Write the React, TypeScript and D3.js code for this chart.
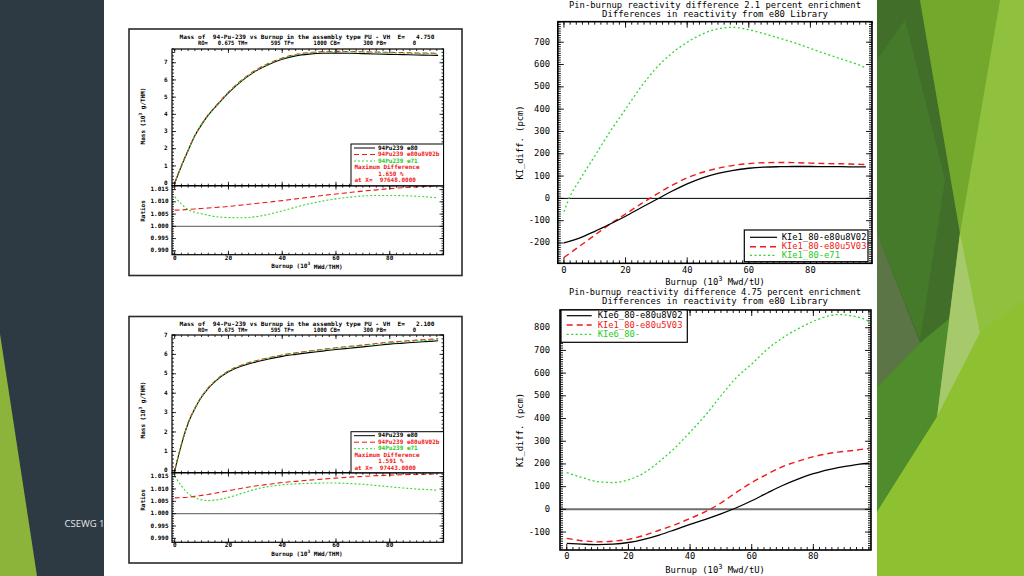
import React from "react";
import * as d3 from "d3";

// ---------------- Data: left charts (Pu-239 mass and ratios) ----------------
const burnupMass = [0, 2.5, 5, 7.5, 10, 12.5, 15, 20, 25, 30, 35, 40, 45, 50, 55, 60, 65, 70, 75, 80, 85, 90, 95, 98];

// E = 4.750
const massE80_475 = [0, 1.0, 1.9, 2.75, 3.4, 3.95, 4.4, 5.25, 5.95, 6.5, 6.9, 7.2, 7.4, 7.5, 7.55, 7.56, 7.55, 7.53, 7.51, 7.49, 7.47, 7.45, 7.44, 7.43];
const massE80u8_475 = [0, 1.007, 1.913, 2.77, 3.425, 3.98, 4.434, 5.293, 6.002, 6.56, 6.968, 7.276, 7.483, 7.589, 7.645, 7.66, 7.654, 7.638, 7.622, 7.606, 7.588, 7.57, 7.562, 7.553];
const massE71_475 = [0, 1.009, 1.913, 2.766, 3.417, 3.968, 4.418, 5.269, 5.971, 6.525, 6.934, 7.245, 7.458, 7.569, 7.628, 7.645, 7.64, 7.623, 7.605, 7.584, 7.563, 7.542, 7.529, 7.516];
const ratioE80u8_475 = [1.0066, 1.0067, 1.0069, 1.0071, 1.0073, 1.0075, 1.0077, 1.0081, 1.0087, 1.0093, 1.0099, 1.0105, 1.0112, 1.0119, 1.0126, 1.0132, 1.0138, 1.0144, 1.0149, 1.0154, 1.0158, 1.0161, 1.0164, 1.0165];
const ratioE71_475 = [1.0121, 1.0091, 1.0068, 1.0058, 1.0051, 1.0045, 1.004, 1.0036, 1.0035, 1.0039, 1.0049, 1.0063, 1.0078, 1.0092, 1.0103, 1.0112, 1.0119, 1.0124, 1.0126, 1.0126, 1.0125, 1.0123, 1.0119, 1.0116];

// E = 2.100
const massE80_210 = [0, 1.35, 2.45, 3.2, 3.8, 4.25, 4.6, 5.1, 5.4, 5.6, 5.76, 5.9, 6.0, 6.09, 6.17, 6.25, 6.32, 6.39, 6.46, 6.53, 6.58, 6.63, 6.67, 6.7];
const massE80u8_210 = [0, 1.359, 2.466, 3.222, 3.828, 4.283, 4.638, 5.147, 5.456, 5.663, 5.829, 5.974, 6.079, 6.173, 6.256, 6.34, 6.414, 6.487, 6.56, 6.632, 6.684, 6.735, 6.777, 6.808];
const massE71_210 = [0, 1.365, 2.47, 3.221, 3.821, 4.273, 4.625, 5.134, 5.444, 5.655, 5.823, 5.969, 6.073, 6.165, 6.247, 6.327, 6.397, 6.466, 6.534, 6.601, 6.648, 6.696, 6.735, 6.764];
const ratioE80u8_210 = [1.0064, 1.0065, 1.0067, 1.007, 1.0074, 1.0078, 1.0083, 1.0093, 1.0103, 1.0112, 1.0119, 1.0126, 1.0131, 1.0136, 1.014, 1.0144, 1.0148, 1.0151, 1.0154, 1.0156, 1.0158, 1.0159, 1.016, 1.0161];
const ratioE71_210 = [1.0153, 1.0113, 1.0082, 1.0065, 1.0056, 1.0053, 1.0055, 1.0066, 1.0082, 1.0099, 1.011, 1.0117, 1.0121, 1.0123, 1.0124, 1.0124, 1.0122, 1.0119, 1.0114, 1.0109, 1.0104, 1.01, 1.0097, 1.0095];

const massTicks = [0, 1, 2, 3, 4, 5, 6, 7];
const ratioTicks = [0.99, 0.995, 1.0, 1.005, 1.01, 1.015];
const ratioTickLabels = ["0.990", "0.995", "1.000", "1.005", "1.010", "1.015"];
const burnupTicks = [0, 20, 40, 60, 80];

// ---------------- Data: right charts (reactivity differences, pcm) ----------------
const burnup21 = [0, 2, 5, 10, 15, 20, 25, 30, 35, 40, 45, 50, 55, 60, 65, 70, 75, 80, 85, 90, 95, 98];
const kiE80u8_21 = [-200, -192, -178, -148, -115, -80, -42, -5, 32, 65, 92, 112, 126, 135, 140, 142, 143, 143, 142, 142, 141, 141];
const kiE80u5_21 = [-265, -245, -215, -165, -115, -70, -25, 18, 58, 92, 117, 135, 148, 156, 160, 161, 160, 158, 156, 155, 153, 152];
const kiE71_21 = [-60, 10, 80, 190, 300, 400, 500, 585, 650, 700, 737, 760, 767, 756, 738, 718, 697, 672, 648, 625, 602, 585];

const burnup475 = [0, 5, 10, 15, 20, 25, 30, 35, 40, 45, 50, 55, 60, 65, 70, 75, 80, 85, 88, 92, 95, 98];
const kiE80u8_475 = [-150, -153, -155, -153, -146, -132, -113, -90, -66, -44, -20, 7, 38, 72, 105, 133, 157, 175, 184, 193, 199, 203];
const kiE80u5_475 = [-128, -138, -143, -140, -132, -115, -92, -68, -40, -10, 28, 75, 118, 155, 188, 212, 232, 246, 252, 258, 263, 268];
const kiE71_475 = [162, 140, 122, 118, 130, 160, 210, 270, 340, 415, 500, 580, 640, 705, 755, 795, 828, 852, 858, 853, 845, 828];

const kiTicks21 = [-200, -100, 0, 100, 200, 300, 400, 500, 600, 700];
const kiTicks475 = [-100, 0, 100, 200, 300, 400, 500, 600, 700, 800];

// ---------------- Styling ----------------
const MONO = '"DejaVu Sans Mono", "Liberation Mono", monospace';
const RED = "#f01818";
const GREEN = "#2fd82f";
const GREEN_TXT = "#22cc22";

function steps(lo: number, hi: number, step: number): number[] {
  const n0 = Math.ceil(lo / step - 1e-6);
  const n1 = Math.floor(hi / step + 1e-6);
  return d3.range(n0, n1 + 1).map((i) => +(i * step).toFixed(6));
}

function AxesFrame(props: {
  xs: d3.ScaleLinear<number, number>;
  ys: d3.ScaleLinear<number, number>;
  xMaj: number[];
  xMin: number[];
  yMaj: number[];
  yMin: number[];
  majLen: number;
  minLen: number;
  frameW: number;
  tickW: number;
}) {
  const { xs, ys, xMaj, xMin, yMaj, yMin, majLen, minLen, frameW, tickW } = props;
  const [l, r] = xs.range();
  const [b, t] = ys.range();
  let d = "";
  const addX = (vals: number[], len: number) =>
    vals.forEach((v) => {
      const p = xs(v);
      d += `M${p},${b}L${p},${b - len}M${p},${t}L${p},${t + len}`;
    });
  const addY = (vals: number[], len: number) =>
    vals.forEach((v) => {
      const p = ys(v);
      d += `M${l},${p}L${l + len},${p}M${r},${p}L${r - len},${p}`;
    });
  addX(xMin, minLen);
  addX(xMaj, majLen);
  addY(yMin, minLen);
  addY(yMaj, majLen);
  return (
    <g>
      <path d={d} stroke="#000" strokeWidth={tickW} fill="none" />
      <rect x={l} y={t} width={r - l} height={b - t} fill="none" stroke="#000" strokeWidth={frameW} />
    </g>
  );
}

function linePath(xv: number[], yv: number[], xs: d3.ScaleLinear<number, number>, ys: d3.ScaleLinear<number, number>) {
  const gen = d3
    .line<number>()
    .x((_, i) => xs(xv[i]))
    .y((d) => ys(d))
    .curve(d3.curveMonotoneX);
  return gen(yv) || "";
}

// ---------------- Left chart: mass + ratio ----------------
type MassChartProps = {
  id: string;
  frame: [number, number, number, number];
  eValue: string;
  titleY: [number, number];
  massDomain: [number, number];
  massRange: [number, number];
  ratioRange: [number, number];
  tickLabelY: number;
  xTitleY: number;
  massLabelY: number;
  ratioLabelY: number;
  legendTop: number;
  maxDiff: string;
  atX: string;
  mBlack: number[];
  mRed: number[];
  mGreen: number[];
  rRed: number[];
  rGreen: number[];
};

function MassChart(p: MassChartProps) {
  const xs = d3.scaleLinear().domain([-1, 100]).range([172, 443.5]);
  const ym = d3.scaleLinear().domain(p.massDomain).range(p.massRange);
  const yr = d3.scaleLinear().domain([0.9884, 1.0166]).range(p.ratioRange);
  const [fx0, fy0, fx1, fy1] = p.frame;
  const fs = 6;
  const lt = p.legendTop;
  const rowY = [lt + 4, lt + 10.5, lt + 17, lt + 23.5, lt + 30, lt + 36.5];
  const lx0 = 354, lx1 = 375, tx = 378;
  return (
    <g fontFamily={MONO} fontWeight="bold" fontSize={fs}>
      <rect x={fx0} y={fy0} width={fx1 - fx0} height={fy1 - fy0} fill="#fff" stroke="#2a2a2a" strokeWidth={1.6} />
      <text xmlSpace="preserve" x={307} y={p.titleY[0]} dominantBaseline="middle" textAnchor="middle" textLength={255} lengthAdjust="spacingAndGlyphs">
        {`Mass of  94-Pu-239 vs Burnup in the assembly type PU - VH  E=   ${p.eValue}`}
      </text>
      <text xmlSpace="preserve" x={307} y={p.titleY[1]} dominantBaseline="middle" textAnchor="middle" textLength={218} lengthAdjust="spacingAndGlyphs">
        {"RO=   0.675 TM=       595 TF=      1000 CB=       300 PB=        0"}
      </text>
      <defs>
        <clipPath id={`${p.id}-m`}>
          <rect x={172} y={p.massRange[1]} width={271.5} height={p.massRange[0] - p.massRange[1]} />
        </clipPath>
        <clipPath id={`${p.id}-r`}>
          <rect x={172} y={p.ratioRange[1]} width={271.5} height={p.ratioRange[0] - p.ratioRange[1]} />
        </clipPath>
      </defs>
      <g clipPath={`url(#${p.id}-m)`} fill="none">
        <path d={linePath(burnupMass, p.mBlack, xs, ym)} stroke="#000" strokeWidth={1.1} />
        <path d={linePath(burnupMass, p.mRed, xs, ym)} stroke={RED} strokeWidth={1.1} strokeDasharray="5,3" />
        <path d={linePath(burnupMass, p.mGreen, xs, ym)} stroke={GREEN} strokeWidth={1.1} strokeDasharray="2,2" />
      </g>
      <g clipPath={`url(#${p.id}-r)`} fill="none">
        <line x1={172} x2={443.5} y1={yr(1)} y2={yr(1)} stroke="#777" strokeWidth={1.3} />
        <path d={linePath(burnupMass, p.rRed, xs, yr)} stroke={RED} strokeWidth={1.1} strokeDasharray="5,3" />
        <path d={linePath(burnupMass, p.rGreen, xs, yr)} stroke={GREEN} strokeWidth={1.1} strokeDasharray="2,2" />
      </g>
      <AxesFrame xs={xs} ys={ym} xMaj={burnupTicks} xMin={steps(0, 100, 2.5)} yMaj={massTicks} yMin={steps(p.massDomain[0], p.massDomain[1], 0.2)} majLen={4} minLen={2} frameW={1.2} tickW={0.8} />
      <AxesFrame xs={xs} ys={yr} xMaj={burnupTicks} xMin={steps(0, 100, 2.5)} yMaj={ratioTicks} yMin={steps(0.9884, 1.0166, 0.001)} majLen={4} minLen={2} frameW={1.2} tickW={0.8} />
      {massTicks.map((v) => (
        <text key={`m${v}`} x={167.5} y={ym(v)} textAnchor="end" dominantBaseline="middle">
          {v}
        </text>
      ))}
      {ratioTicks.map((v, i) => (
        <text key={`r${v}`} x={168.5} y={yr(v)} textAnchor="end" dominantBaseline="middle">
          {ratioTickLabels[i]}
        </text>
      ))}
      {burnupTicks.map((v) => (
        <text key={`x${v}`} x={xs(v)} y={p.tickLabelY} textAnchor="middle" dominantBaseline="middle">
          {v}
        </text>
      ))}
      <text x={307} y={p.xTitleY} textAnchor="middle" dominantBaseline="middle">
        Burnup (10<tspan dy={-2.5} fontSize={4.5}>3</tspan>
        <tspan dy={2.5}> MWd/THM)</tspan>
      </text>
      <text transform={`translate(143,${p.massLabelY}) rotate(-90)`} textAnchor="middle" dominantBaseline="middle">
        Mass (10<tspan dy={-2.5} fontSize={4.5}>3</tspan>
        <tspan dy={2.5}> g/THM)</tspan>
      </text>
      <text transform={`translate(143,${p.ratioLabelY}) rotate(-90)`} textAnchor="middle" dominantBaseline="middle">
        Ratios
      </text>
      <rect x={351} y={lt} width={92.5} height={p.massRange[0] - lt} fill="#fff" stroke="#000" strokeWidth={1} />
      <line x1={lx0} x2={lx1} y1={rowY[0]} y2={rowY[0]} stroke="#000" strokeWidth={1} />
      <line x1={lx0} x2={lx1} y1={rowY[1]} y2={rowY[1]} stroke={RED} strokeWidth={1} strokeDasharray="5,3" />
      <line x1={lx0} x2={lx1} y1={rowY[2]} y2={rowY[2]} stroke={GREEN} strokeWidth={1} strokeDasharray="2,2" />
      <text x={tx} y={rowY[0]} dominantBaseline="middle" fill="#000">94Pu239 e80</text>
      <text x={tx} y={rowY[1]} dominantBaseline="middle" fill={RED}>94Pu239 e80u8V02b</text>
      <text x={tx} y={rowY[2]} dominantBaseline="middle" fill={GREEN_TXT}>94Pu239 e71</text>
      <text x={354.5} y={rowY[3]} dominantBaseline="middle" fill={RED}>Maximum Difference</text>
      <text xmlSpace="preserve" x={391} y={rowY[4]} dominantBaseline="middle" textAnchor="middle" fill={RED}>{`${p.maxDiff} %`}</text>
      <text xmlSpace="preserve" x={354.5} y={rowY[5]} dominantBaseline="middle" fill={RED}>{`at X=  ${p.atX}`}</text>
    </g>
  );
}

// ---------------- Right chart: reactivity differences ----------------
type KiChartProps = {
  id: string;
  xDomain: [number, number];
  xRange: [number, number];
  yDomain: [number, number];
  yRange: [number, number];
  yTicks: number[];
  titleY: [number, number];
  enrich: string;
  tickLabelY: number;
  xTitleY: number;
  burnup: number[];
  black: number[];
  red: number[];
  green: number[];
  zeroColor: string;
  zeroWidth: number;
  legend: { box: [number, number, number, number]; rows: number[]; lx: [number, number]; tx: number; labels: string[] };
};

function KiChart(p: KiChartProps) {
  const xs = d3.scaleLinear().domain(p.xDomain).range(p.xRange);
  const ys = d3.scaleLinear().domain(p.yDomain).range(p.yRange);
  const [l, r] = p.xRange;
  const [b, t] = p.yRange;
  const lg = p.legend;
  const styles = [
    { c: "#000", dash: undefined as string | undefined, w: 1.2, txt: "#000" },
    { c: RED, dash: "6,4", w: 1.4, txt: RED },
    { c: GREEN, dash: "2,2.5", w: 1.3, txt: GREEN_TXT },
  ];
  return (
    <g fontFamily={MONO} fontSize={8.8} fill="#000">
      <text x={715} y={p.titleY[0]} textAnchor="middle" dominantBaseline="middle" textLength={292} lengthAdjust="spacingAndGlyphs">
        {`Pin-burnup reactivity difference ${p.enrich} percent enrichment`}
      </text>
      <text x={715} y={p.titleY[1]} textAnchor="middle" dominantBaseline="middle" textLength={226} lengthAdjust="spacingAndGlyphs">
        Differences in reactivity from e80 Library
      </text>
      <defs>
        <clipPath id={`${p.id}-c`}>
          <rect x={l} y={t} width={r - l} height={b - t} />
        </clipPath>
      </defs>
      <g clipPath={`url(#${p.id}-c)`} fill="none">
        <line x1={l} x2={r} y1={ys(0)} y2={ys(0)} stroke={p.zeroColor} strokeWidth={p.zeroWidth} />
        <path d={linePath(p.burnup, p.green, xs, ys)} stroke={GREEN} strokeWidth={1.3} strokeDasharray="2,2.5" />
        <path d={linePath(p.burnup, p.red, xs, ys)} stroke={RED} strokeWidth={1.4} strokeDasharray="6,4" />
        <path d={linePath(p.burnup, p.black, xs, ys)} stroke="#000" strokeWidth={1.3} />
      </g>
      <AxesFrame
        xs={xs}
        ys={ys}
        xMaj={burnupTicks}
        xMin={steps(0, p.xDomain[1], 2)}
        yMaj={p.yTicks}
        yMin={steps(p.yDomain[0], p.yDomain[1], 10)}
        majLen={6}
        minLen={3}
        frameW={1.6}
        tickW={0.9}
      />
      {p.yTicks.map((v) => (
        <text key={v} x={550} y={ys(v)} textAnchor="end" dominantBaseline="middle">
          {v}
        </text>
      ))}
      {burnupTicks.map((v) => (
        <text key={`x${v}`} x={xs(v)} y={p.tickLabelY} textAnchor="middle" dominantBaseline="middle">
          {v}
        </text>
      ))}
      <text x={715} y={p.xTitleY} textAnchor="middle" dominantBaseline="middle">
        Burnup (10<tspan dy={-3.5} fontSize={7}>3</tspan>
        <tspan dy={3.5}> Mwd/tU)</tspan>
      </text>
      <text transform={`translate(520,${(t + b) / 2}) rotate(-90)`} textAnchor="middle" dominantBaseline="middle">
        KI_diff. (pcm)
      </text>
      <rect x={lg.box[0]} y={lg.box[1]} width={lg.box[2] - lg.box[0]} height={lg.box[3] - lg.box[1]} fill="#fff" stroke="#000" strokeWidth={1.2} />
      {styles.map((s, i) => (
        <g key={i}>
          <line x1={lg.lx[0]} x2={lg.lx[1]} y1={lg.rows[i]} y2={lg.rows[i]} stroke={s.c} strokeWidth={s.w} strokeDasharray={s.dash} />
          <text x={lg.tx} y={lg.rows[i]} dominantBaseline="middle" fill={s.txt}>
            {lg.labels[i]}
          </text>
        </g>
      ))}
    </g>
  );
}

function Background() {
  return (
    <g>
      <rect x={0} y={0} width={1024} height={576} fill="#fff" />
      <rect x={0} y={0} width={104} height={576} fill="#2e3a43" />
      <polygon points="0,334 37,576 0,576" fill="#8cb43a" />
      <text x={64.5} y={527} fill="#e4e6e8" fontFamily='"Open Sans", "Noto Sans", sans-serif' fontSize={9.5}>
        CSEWG 15
      </text>
      <rect x={104} y={0} width={773} height={576} fill="#fff" />
      <rect x={877} y={0} width={147} height={576} fill="#8cc035" />
      <polygon points="1000,0 1024,0 1024,576 960,576 950,420 980,333 960,233" fill="#8fc03e" />
      <polygon points="920,0 1000,0 960,233" fill="#73a82c" />
      <polygon points="877,0 920,0 960,233 937,417 877,387" fill="#416f2a" />
      <polygon points="877,60 905,20 945,180 920,340 877,233" fill="#467a2b" />
      <polygon points="877,233 920,343 877,387" fill="#5c7546" />
      <polygon points="877,387 920,343 950,318 937,417 877,512" fill="#4f8c2b" />
      <polygon points="960,233 980,333 937,417" fill="#a6c96c" />
      <polygon points="937,417 980,333 1024,300 1024,576 940,576 877,576 877,512" fill="#8dc131" />
    </g>
  );
}

export default function App() {
  return (
    <div style={{ position: "absolute", left: 0, top: 0, width: 1024, height: 576 }}>
      <svg xmlSpace="preserve" width={1024} height={576} viewBox="0 0 1024 576" style={{ display: "block", whiteSpace: "pre" }}>
        <Background />
        <MassChart
          id="tl"
          frame={[129, 29, 462, 275.5]}
          eValue="4.750"
          titleY={[37.3, 43.3]}
          massDomain={[-0.15, 7.8]}
          massRange={[185.7, 49]}
          ratioRange={[254.7, 185.7]}
          tickLabelY={258.7}
          xTitleY={266.7}
          massLabelY={116}
          ratioLabelY={211}
          legendTop={144}
          maxDiff="1.650"
          atX="97648.0000"
          mBlack={massE80_475}
          mRed={massE80u8_475}
          mGreen={massE71_475}
          rRed={ratioE80u8_475}
          rGreen={ratioE71_475}
        />
        <MassChart
          id="bl"
          frame={[129, 316.5, 462, 563]}
          eValue="2.100"
          titleY={[324.3, 330.3]}
          massDomain={[-0.1, 7.0]}
          massRange={[472.7, 335]}
          ratioRange={[542.3, 472.7]}
          tickLabelY={545.7}
          xTitleY={554.3}
          massLabelY={410}
          ratioLabelY={500}
          legendTop={431.7}
          maxDiff="1.591"
          atX="97443.0000"
          mBlack={massE80_210}
          mRed={massE80u8_210}
          mGreen={massE71_210}
          rRed={ratioE80u8_210}
          rGreen={ratioE71_210}
        />
        <KiChart
          id="tr"
          xDomain={[-2, 100]}
          xRange={[557.8, 872]}
          yDomain={[-291, 792]}
          yRange={[263.3, 21.7]}
          yTicks={kiTicks21}
          titleY={[5.5, 14.5]}
          enrich="2.1"
          tickLabelY={270.5}
          xTitleY={282}
          burnup={burnup21}
          black={kiE80u8_21}
          red={kiE80u5_21}
          green={kiE71_21}
          zeroColor="#000"
          zeroWidth={1}
          legend={{
            box: [744.3, 230, 868, 261.7],
            rows: [237.3, 246.7, 255.3],
            lx: [750, 777],
            tx: 781.7,
            labels: ["KIe1_80-e80u8V02", "KIe1_80-e80u5V03", "KIe1_80-e71"],
          }}
        />
        <KiChart
          id="br"
          xDomain={[-2.2, 98.7]}
          xRange={[560, 871]}
          yDomain={[-179, 878]}
          yRange={[550, 310]}
          yTicks={kiTicks475}
          titleY={[292.3, 301.7]}
          enrich="4.75"
          tickLabelY={556}
          xTitleY={570}
          burnup={burnup475}
          black={kiE80u8_475}
          red={kiE80u5_475}
          green={kiE71_475}
          zeroColor="#6e6e6e"
          zeroWidth={2}
          legend={{
            box: [561, 310, 687.3, 342.3],
            rows: [315.7, 325, 334.3],
            lx: [566.7, 591.7],
            tx: 597.7,
            labels: ["KIe6_80-e80u8V02", "KIe1_80-e80u5V03", "KIe6_80-"],
          }}
        />
      </svg>
    </div>
  );
}
